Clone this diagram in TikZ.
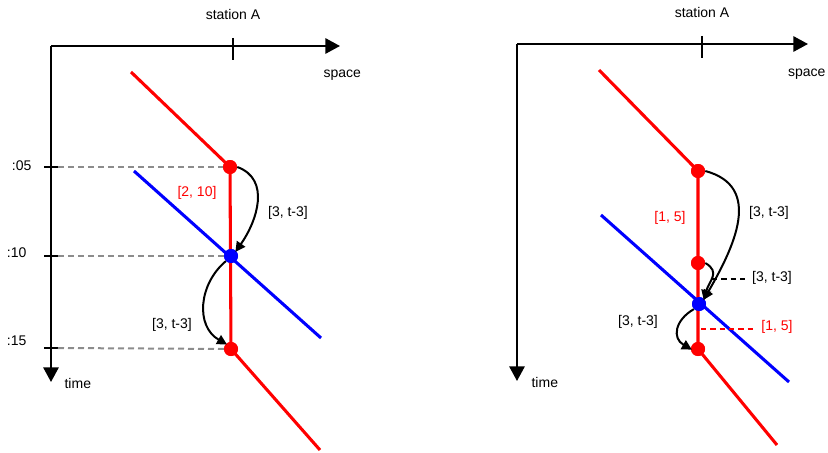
\documentclass[tikz,border=0pt]{standalone}
\usepackage{fontspec}
\setmainfont{Liberation Sans}
\usetikzlibrary{arrows.meta,calc}
\tikzset{
  ts axis/.style={line width=1.5pt, -{Triangle[length=11pt,width=11.5pt]}},
  ts tick/.style={line width=1.5pt},
  ts guide/.style={line width=1.5pt, draw=black!45, dash pattern=on 4.5pt off 3pt},
  ts red line/.style={line width=2.3pt, draw=red},
  ts blue line/.style={line width=2.3pt, draw=blue},
  ts red dot/.style={circle, fill=red, inner sep=0pt, minimum size=10.5pt},
  ts blue dot/.style={circle, fill=blue, inner sep=0pt, minimum size=10.5pt},
  ts arrow/.style={line width=1.5pt, -{Triangle[length=7.5pt,width=7.5pt]}, shorten >=-1pt},
  ts label/.style={font=\fontsize{10.5}{12}\selectfont, inner sep=1pt},
  ts red label/.style={ts label, text=red},
  ts leader/.style={line width=0.9pt, dash pattern=on 4pt off 3pt, shorten >=3pt},
}

\begin{document}
\begin{tikzpicture}[x=0.75pt,y=-0.75pt]
  \useasboundingbox (0,0) rectangle (828,453);

  % ---- left diagram: axes
  \coordinate (lo) at (51,46);
  \draw[ts axis] (lo) -- (340,46);
  \draw[ts axis] (lo) -- (51,382);
  \draw[ts tick] (233,38) -- (233,60);
  \node[ts label] (lsta) at (233,14) {station A};
  \node[ts label, anchor=west] (lspace) at (322,75) {space};
  \node[ts label, anchor=west] (ltime) at (63,383) {time};
  \node[ts label, anchor=east] (t05) at (33,166) {:05};
  \node[ts label, anchor=east] (t10) at (28,253) {:10};
  \node[ts label, anchor=east] (t15) at (28,341) {:15};
  \foreach \y in {167,256,348}
    \draw[ts tick] (44,\y) -- (58,\y);

  % trains
  \node[ts red dot] (la) at (230,167) {};
  \node[ts blue dot] (lb) at (231,256) {};
  \node[ts red dot] (lc) at (231,349) {};
  \coordinate (lrtop) at (131,72);
  \coordinate (lrbot) at (320,450);
  \coordinate (lbtop) at (134,171);
  \coordinate (lbbot) at (321,338);

  \draw[ts guide] (58,167) -- (la.center);
  \draw[ts guide] (58,256) -- (lb.center);
  \draw[ts guide] (58,348) -- (lc.center);

  \draw[ts blue line] (lbtop) -- (lbbot);
  \draw[ts red line] (lrtop) -- (la.center) -- (lc.center) -- (lrbot);
  \node[ts red dot] at (la) {};
  \node[ts blue dot] at (lb) {};
  \node[ts red dot] at (lc) {};

  \draw[ts arrow] (la.east) to[out=-20,in=55,looseness=1.1] (lb.north east);
  \draw[ts arrow] (lb.south west) to[out=-140,in=150,looseness=1.1] (lc.north west);
  \node[ts red label] (lcap) at (197,193) {[2, 10]};
  \node[ts label] (lrun1) at (288,213) {[3, t-3]};
  \node[ts label] (lrun2) at (172,325) {[3, t-3]};

  % ---- right diagram: axes
  \coordinate (ro) at (517,44);
  \draw[ts axis] (ro) -- (808,44);
  \draw[ts axis] (ro) -- (517,381);
  \draw[ts tick] (702,36) -- (702,58);
  \node[ts label] (rsta) at (702,12) {station A};
  \node[ts label, anchor=east] (rspace) at (827,74) {space};
  \node[ts label, anchor=west] (rtime) at (530,382) {time};

  % trains
  \node[ts red dot] (ra) at (698,171) {};
  \node[ts red dot] (rb) at (698,263) {};
  \node[ts blue dot] (rc) at (699,304) {};
  \node[ts red dot] (rd) at (698,349) {};
  \coordinate (rrtop) at (599,70);
  \coordinate (rrbot) at (777,445);
  \coordinate (rbtop) at (601,215);
  \coordinate (rbbot) at (789,382);

  \draw[ts blue line] (rbtop) -- (rbbot);
  \draw[ts red line] (rrtop) -- (ra.center) -- (rd.center) -- (rrbot);
  \node[ts red dot] at (ra) {};
  \node[ts red dot] at (rb) {};
  \node[ts blue dot] at (rc) {};
  \node[ts red dot] at (rd) {};

  \draw[ts arrow] (ra.east) to[out=-15,in=60,looseness=1.2] (rc.north east);
  \draw[ts arrow] (rb.east) to[out=-30,in=75,looseness=1.3] (rc.north east);
  \draw[ts arrow] (rc.south west) to[out=-150,in=150,looseness=1.4] (rd.west);

  \node[ts red label] (rcap1) at (670,218) {[1, 5]};
  \node[ts label] (rrun1) at (769,213) {[3, t-3]};
  \node[ts label] (rrun2) at (772,278) {[3, t-3]};
  \node[ts label] (rrun3) at (638,322) {[3, t-3]};
  \node[ts red label] (rcap2) at (777,327) {[1, 5]};
  \coordinate (rrun2end) at (712,279);
  \coordinate (rcap2end) at (701,329);
  \draw[ts leader] (rrun2end) -- (rrun2end -| rrun2.west);
  \draw[ts leader, draw=red] (rcap2end) -- (rcap2end -| rcap2.west);
\end{tikzpicture}
\end{document}
